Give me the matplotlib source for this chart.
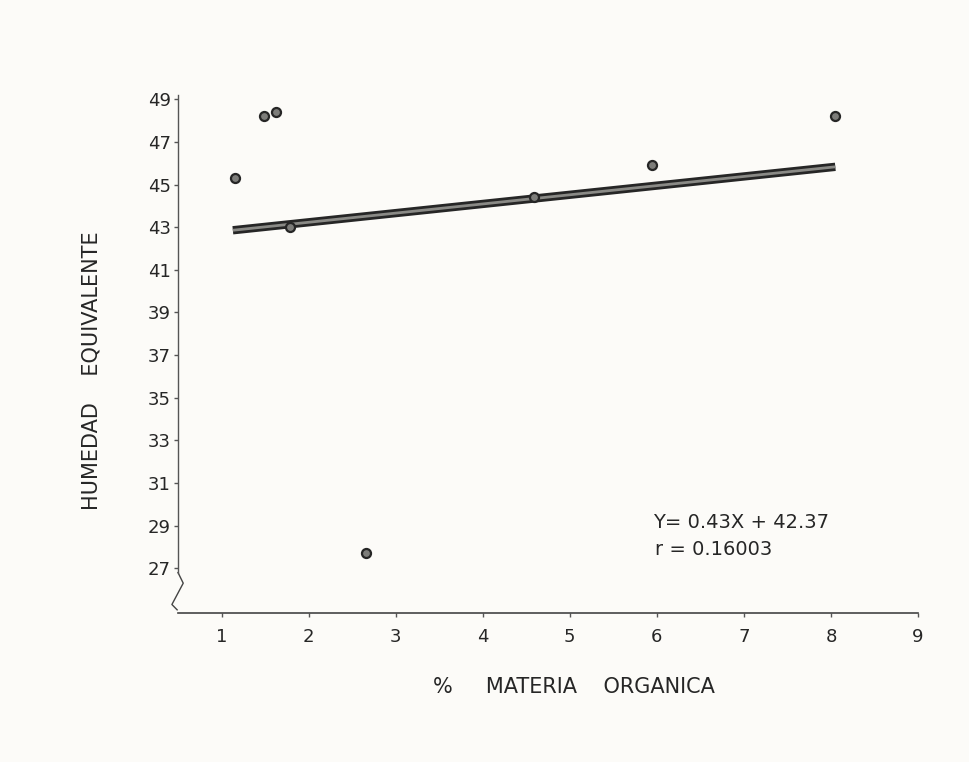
import matplotlib.pyplot as plt

# % materia organica vs humedad equivalente
materia_organica = [1.16, 1.49, 1.63, 1.79, 2.66, 4.59, 5.94, 8.05]
humedad_equiv = [45.3, 48.2, 48.4, 43.0, 27.7, 44.4, 45.9, 48.2]

# recta de regresion
pendiente = 0.43
intercepto = 42.37
r_coef = "0.16003"
recta_x = [1.13, 8.05]

x_ticks = [1, 2, 3, 4, 5, 6, 7, 8, 9]
y_ticks = [27, 29, 31, 33, 35, 37, 39, 41, 43, 45, 47, 49]

ink = "#262626"
plt.rcParams["font.family"] = ["DejaVu Sans"]

fig = plt.figure(figsize=(9.69, 7.62), dpi=100)
fig.patch.set_facecolor("#fcfbf8")
ax = fig.add_axes([0.1837, 0.1955, 0.7637, 0.6798])
ax.set_facecolor("#fcfbf8")

ax.set_xlim(0.5, 9.0)
ax.set_ylim(24.9, 49.2)

# recta calculada con la ecuacion
recta_y = [pendiente * x + intercepto for x in recta_x]
ax.plot(recta_x, recta_y, color=ink, lw=6, solid_capstyle="butt", zorder=2)
ax.plot(recta_x, recta_y, color="#8a8a86", lw=2.0, solid_capstyle="butt", zorder=3)

ax.plot(materia_organica, humedad_equiv, "o", ms=6.5, mfc="#7d7d7a",
        mec=ink, mew=1.6, zorder=4)

for s in ["top", "right"]:
    ax.spines[s].set_visible(False)
ax.spines["left"].set_bounds(26.8, 49.2)
ax.spines["left"].set_color("#555555")
ax.spines["bottom"].set_color("#444444")
ax.spines["left"].set_linewidth(1.0)
ax.spines["bottom"].set_linewidth(1.2)

# corte del eje y
ax.plot([0.5, 0.56, 0.43, 0.49], [26.8, 26.3, 25.3, 25.05],
        color="#444444", lw=1.0, clip_on=False)

ax.set_xticks(x_ticks)
ax.set_yticks(y_ticks)
ax.tick_params(axis="both", direction="out", length=3, width=1.0,
               colors="#555555", labelcolor=ink, labelsize=13)
ax.tick_params(axis="y", pad=2)
ax.tick_params(axis="x", pad=8)

fig.text(0.094, 0.514, "HUMEDAD    EQUIVALENTE", rotation=90, ha="center",
         va="center", fontsize=15, color=ink)
fig.text(0.592, 0.099, "%     MATERIA    ORGANICA", ha="center", va="center",
         fontsize=15, color=ink)

ax.text(0.674, 0.314, "Y= 0.43X + 42.37", transform=fig.transFigure,
        fontsize=14, color=ink, va="center")
ax.text(0.676, 0.279, "r = " + r_coef, transform=fig.transFigure,
        fontsize=14, color=ink, va="center")

fig.savefig("out.png", dpi=100, facecolor=fig.get_facecolor())
